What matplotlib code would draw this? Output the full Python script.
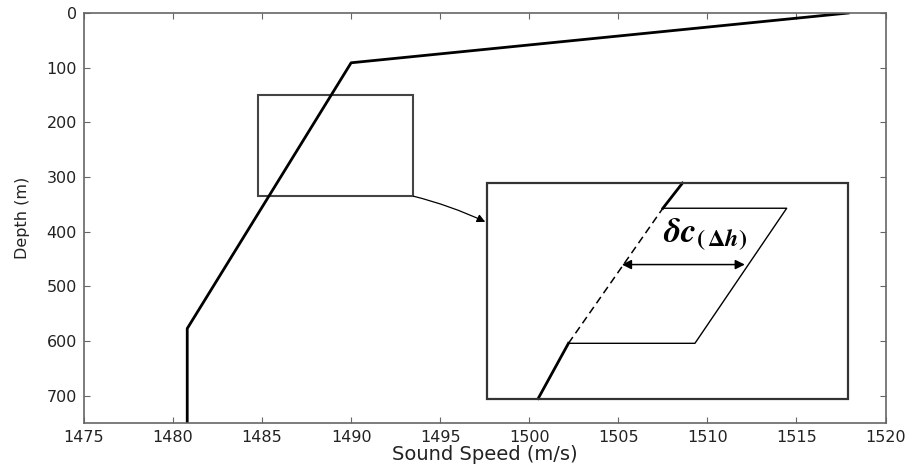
import matplotlib
matplotlib.use('Agg')
import matplotlib.pyplot as plt
from matplotlib.patches import Rectangle

plt.rcParams['font.family'] = ['DejaVu Sans']
plt.rcParams['mathtext.fontset'] = 'stix'

# sound speed profile (m/s) vs depth (m)
speed = [1517.9, 1490.0, 1480.8, 1480.8]
depth = [0, 91, 577, 750]

# zoom window on the main profile
zoom_speed = [1484.8, 1493.5]
zoom_depth = [150, 335]

# inset frame (drawn in data units)
inset_speed = [1497.6, 1517.9]
inset_depth = [311, 705]

# sketch inside the inset: profile, shifted segment and the offset
inset_low_c = [1500.5, 1502.2]
inset_low_z = [705, 604]
inset_dash_c = [1502.2, 1507.5]
inset_dash_z = [604, 357]
inset_high_c = [1507.5, 1508.6]
inset_high_z = [357, 311]
shift_c = [1502.2, 1509.3, 1514.45, 1507.5]
shift_z = [604, 604, 357, 357]
delta_c = [1505.2, 1512.1]
delta_z = 460

fig = plt.figure(figsize=(9.12, 4.65), dpi=100)
ax = fig.add_axes([0.092, 0.090, 0.879, 0.882])

ax.plot(speed, depth, color='black', lw=2.0, solid_joinstyle='round')

ax.add_patch(Rectangle((zoom_speed[0], zoom_depth[0]),
                       zoom_speed[1] - zoom_speed[0], zoom_depth[1] - zoom_depth[0],
                       fill=False, edgecolor='#444444', lw=1.5))
ax.add_patch(Rectangle((inset_speed[0], inset_depth[0]),
                       inset_speed[1] - inset_speed[0], inset_depth[1] - inset_depth[0],
                       fill=False, edgecolor='#333333', lw=1.6, zorder=3))

ax.annotate('', xy=(inset_speed[0], 383), xytext=(zoom_speed[1], zoom_depth[1]),
            arrowprops=dict(arrowstyle='-|>', color='black', lw=0.9,
                            mutation_scale=12, shrinkA=0, shrinkB=1,
                            connectionstyle='arc3,rad=-0.05'))

# inset contents
ax.plot(inset_low_c, inset_low_z, color='black', lw=2.0)
ax.plot(inset_dash_c, inset_dash_z, color='black', lw=1.1, ls=(0, (5, 3)))
ax.plot(inset_high_c, inset_high_z, color='black', lw=2.0)
ax.plot(shift_c, shift_z, color='black', lw=1.0)
ax.annotate('', xy=(delta_c[1], delta_z), xytext=(delta_c[0], delta_z),
            arrowprops=dict(arrowstyle='<|-|>', color='black', lw=1.1,
                            mutation_scale=14, shrinkA=0, shrinkB=0))
ax.text(1509.9, 405, r'$\boldsymbol{\delta c}_{\boldsymbol{(\,\Delta h)}}$',
        fontsize=25, ha='center', va='center')

ax.set_xlim(1475, 1520)
ax.set_ylim(750, 0)
ax.set_xticks(range(1475, 1521, 5))
ax.set_yticks(range(0, 701, 100))
ax.tick_params(direction='in', top=True, right=True, length=4, width=0.8,
               color='#666666', labelsize=11.5, labelcolor='#222222', pad=5)
for sp in ax.spines.values():
    sp.set_color('#666666')
    sp.set_linewidth(1.2)

ax.set_xlabel('Sound Speed (m/s)', fontsize=14, color='#222222', labelpad=0)
ax.set_ylabel('Depth (m)', fontsize=11.5, color='#222222', labelpad=12)

fig.savefig('out.png', dpi=100)
